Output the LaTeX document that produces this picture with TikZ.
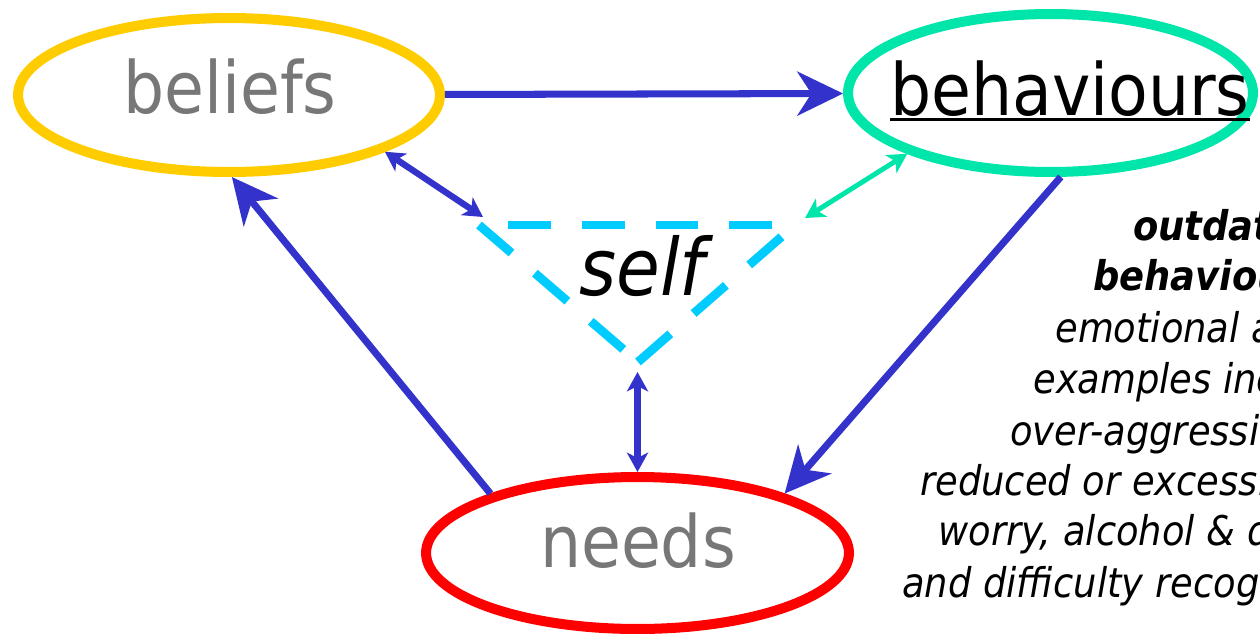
\documentclass[tikz,border=0pt]{standalone}
\usepackage{fontspec}
\setmainfont{DejaVu Sans Condensed}
\usetikzlibrary{positioning,shapes.geometric,arrows.meta}
\definecolor{linkblue}{HTML}{3333CC}
\definecolor{beliefyellow}{HTML}{FFCC00}
\definecolor{behavgreen}{HTML}{00E5AA}
\definecolor{needred}{HTML}{FF0000}
\definecolor{selfcyan}{HTML}{00CCFF}
\definecolor{wordgray}{HTML}{777777}

\begin{document}
\begin{tikzpicture}[
		x=0.02cm, y=-0.02cm,
		bubble/.style={ellipse, draw, line width=5.7pt, inner sep=0pt},
		word/.style={anchor=base, inner sep=0pt, font=\fontsize{41}{48}\selectfont},
		ar/.style={-{Stealth[length=26pt,width=25pt,inset=8pt]}, line width=4pt, color=linkblue},
		dar/.style={{Stealth[length=11pt,width=12pt,inset=3pt]}-{Stealth[length=11pt,width=12pt,inset=3pt]}, line width=3.6pt, color=linkblue},
		selfline/.style={draw=selfcyan, line width=5pt, dash pattern=on 24.4pt off 17.6pt},
		note/.style={anchor=base west, inner sep=0pt, font=\fontsize{23.3}{28}\selectfont\itshape}
	]
	\useasboundingbox (0,0) rectangle (1260,633);
	\clip (0,0) rectangle (1260,633);
	\node[bubble, draw=beliefyellow, minimum width=8.44cm, minimum height=3.08cm] (bel) at (229,95) {};
	\node[bubble, draw=behavgreen, minimum width=8.1cm, minimum height=3.16cm] (beh) at (1050.5,93) {};
	\node[bubble, draw=needred, minimum width=8.46cm, minimum height=3.04cm] (needs) at (637.5,553) {};
	\node[word, text=wordgray] (belt) at (230,113) {beliefs};
	\node[word] (beht) at (1070,115) {behaviours};
	\draw[line width=1.7pt] ([yshift=-2.8pt]beht.base west) -- ([yshift=-2.8pt]beht.base east);
	\node[word, text=wordgray] (needt) at (638,567) {needs};
	\coordinate (sl) at (479,225);
	\coordinate (sr) at (795,225);
	\coordinate (sb) at (638,362);
	\draw[selfline] (sl) -- (sb);
	\draw[selfline] (sb) -- (sr);
	\draw[selfline, dash phase=25.5pt] (sl) -- (sr);
	\node[word, font=\fontsize{45}{52}\selectfont] (self) at (642,295) {\itshape self};
	\coordinate (selfL) at (483,217);
	\coordinate (selfR) at (805,218);
	\coordinate (selfB) at (637.5,372);
	\draw[ar] (bel) -- (beh);
	\draw[ar] (needs.158) -- (bel.-88);
	\draw[ar] (beh.-83) -- (needs.22);
	\draw[dar] (bel.-20) -- (selfL);
	\draw[dar, color=behavgreen, line width=2.8pt] (beh.-157.6) -- (selfR);
	\draw[dar] (needs) -- (selfB);
	\foreach \i/\x/\y/\t in {1/1133/240/{\bfseries outdated}, 2/1093/290/{\bfseries behaviours},
		3/1055/342/{emotional and}, 4/1033/393/{examples include}, 5/1010/445/{over-aggressive},
		6/920/495/{reduced or excessive}, 7/938/545/{worry, alcohol \& drug},
		8/902/597/{and difficulty recognising}}
		\node[note] (note\i) at (\x,\y) {\t};
\end{tikzpicture}
\end{document}
